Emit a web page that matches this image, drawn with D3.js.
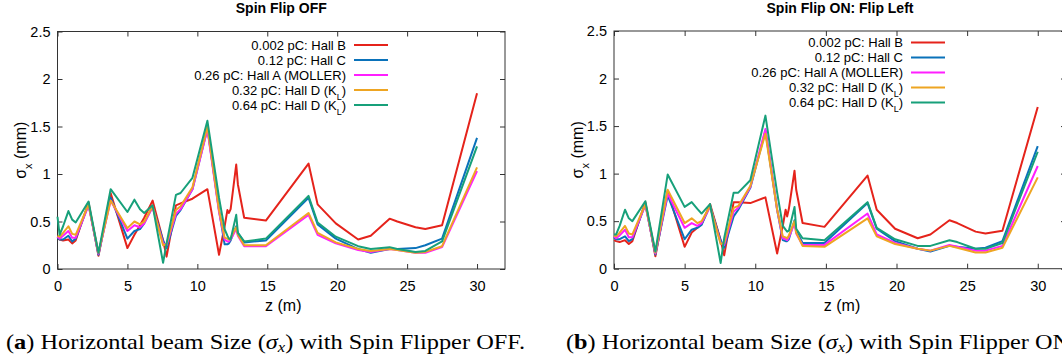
<!DOCTYPE html>
<html>
<head>
<meta charset="utf-8">
<script src="https://cdn.jsdelivr.net/npm/d3@7"></script>
<style>
  body { margin: 0; background: #fff; }
  svg { display: block; }
</style>
</head>
<body>
<svg id="chart" width="1062" height="360"></svg>
<script>
// positions along the beamline (m), shared by every series
const zPos = [0, 0.15, 0.4, 0.78, 1.05, 1.3, 2.22, 2.93, 3.8, 5.0, 5.5, 5.9, 6.2, 6.8, 7.55, 7.8,
  8.47, 8.8, 9.65, 10.72, 11.55, 11.95, 12.15, 12.26, 12.38, 12.78, 12.9, 13.35, 14.9,
  17.95, 18.6, 19.9, 21.5, 22.4, 23.75, 24.3, 25.6, 26.3, 27.5, 30];

const seriesLabels = ['0.002 pC: Hall B', '0.12 pC: Hall C', '0.26 pC: Hall A (MOLLER)', '0.32 pC: Hall D (K_L)', '0.64 pC: Hall D (K_L)'];
const seriesColors = ['#e5231b', '#0a72ba', '#ff1fff', '#eea522', '#17a07a'];

// Spin Flip OFF
const offHallB = [0.34, 0.31, 0.30, 0.31, 0.27, 0.30, 0.70, 0.14, 0.80, 0.22, 0.36, 0.46, 0.54, 0.72, 0.30, 0.13,
  0.67, 0.69, 0.74, 0.84, 0.15, 0.45, 0.62, 0.59, 0.63, 1.10, 0.89, 0.54, 0.51,
  1.11, 0.68, 0.48, 0.31, 0.35, 0.53, 0.50, 0.44, 0.42, 0.46, 1.85];
const offHallC = [0.33, 0.31, 0.31, 0.35, 0.29, 0.32, 0.68, 0.15, 0.75, 0.32, 0.40, 0.42, 0.48, 0.66, 0.30, 0.22,
  0.56, 0.62, 0.84, 1.48, 0.62, 0.26, 0.26, 0.27, 0.30, 0.45, 0.38, 0.28, 0.30,
  0.75, 0.47, 0.32, 0.21, 0.17, 0.21, 0.21, 0.22, 0.25, 0.32, 1.38];
const offHallA = [0.34, 0.32, 0.35, 0.40, 0.33, 0.33, 0.67, 0.16, 0.72, 0.40, 0.46, 0.44, 0.48, 0.65, 0.27, 0.25,
  0.58, 0.63, 0.84, 1.47, 0.60, 0.31, 0.29, 0.29, 0.31, 0.42, 0.35, 0.24, 0.24,
  0.57, 0.36, 0.27, 0.20, 0.18, 0.21, 0.20, 0.17, 0.17, 0.23, 1.03];
const offHallD32 = [0.35, 0.34, 0.38, 0.45, 0.37, 0.36, 0.68, 0.17, 0.72, 0.43, 0.50, 0.47, 0.50, 0.66, 0.25, 0.26,
  0.62, 0.66, 0.86, 1.50, 0.62, 0.33, 0.32, 0.31, 0.33, 0.44, 0.36, 0.25, 0.25,
  0.59, 0.38, 0.28, 0.21, 0.19, 0.21, 0.20, 0.17, 0.18, 0.24, 1.07];
const offHallD64 = [0.55, 0.36, 0.45, 0.61, 0.52, 0.49, 0.71, 0.17, 0.84, 0.60, 0.73, 0.63, 0.59, 0.67, 0.065, 0.27,
  0.78, 0.80, 0.96, 1.56, 0.75, 0.42, 0.35, 0.32, 0.31, 0.57, 0.38, 0.29, 0.32,
  0.77, 0.49, 0.34, 0.24, 0.21, 0.23, 0.21, 0.18, 0.19, 0.29, 1.29];

// Spin Flip ON: Flip Left
const onHallB = [0.30, 0.29, 0.28, 0.30, 0.26, 0.29, 0.70, 0.13, 0.82, 0.23, 0.38, 0.43, 0.47, 0.68, 0.30, 0.14,
  0.70, 0.70, 0.69, 0.75, 0.16, 0.45, 0.62, 0.55, 0.63, 1.03, 0.83, 0.48, 0.44,
  0.98, 0.62, 0.42, 0.32, 0.36, 0.51, 0.48, 0.39, 0.37, 0.40, 1.70];
const onHallC = [0.33, 0.31, 0.31, 0.34, 0.29, 0.31, 0.68, 0.15, 0.77, 0.31, 0.41, 0.43, 0.46, 0.66, 0.30, 0.22,
  0.55, 0.62, 0.85, 1.45, 0.62, 0.30, 0.29, 0.29, 0.31, 0.51, 0.40, 0.27, 0.27,
  0.69, 0.42, 0.29, 0.21, 0.18, 0.24, 0.23, 0.21, 0.22, 0.29, 1.29];
const onHallA = [0.34, 0.32, 0.35, 0.41, 0.33, 0.33, 0.67, 0.16, 0.79, 0.43, 0.48, 0.45, 0.48, 0.65, 0.27, 0.25,
  0.60, 0.64, 0.86, 1.47, 0.62, 0.32, 0.31, 0.30, 0.33, 0.48, 0.37, 0.25, 0.25,
  0.58, 0.36, 0.27, 0.21, 0.19, 0.25, 0.23, 0.19, 0.19, 0.24, 1.08];
const onHallD32 = [0.35, 0.34, 0.38, 0.45, 0.37, 0.36, 0.68, 0.17, 0.83, 0.48, 0.53, 0.48, 0.50, 0.66, 0.26, 0.27,
  0.64, 0.66, 0.87, 1.42, 0.62, 0.34, 0.33, 0.32, 0.35, 0.50, 0.38, 0.24, 0.23,
  0.53, 0.34, 0.26, 0.21, 0.19, 0.24, 0.22, 0.17, 0.17, 0.22, 0.96];
const onHallD64 = [0.36, 0.36, 0.45, 0.62, 0.53, 0.50, 0.71, 0.18, 0.99, 0.65, 0.70, 0.63, 0.58, 0.68, 0.06, 0.32,
  0.80, 0.80, 0.93, 1.61, 0.80, 0.45, 0.41, 0.39, 0.40, 0.65, 0.42, 0.32, 0.30,
  0.70, 0.43, 0.31, 0.24, 0.24, 0.30, 0.28, 0.21, 0.21, 0.27, 1.23];

const xTicks = [0, 5, 10, 15, 20, 25, 30];
const yTicks = [0, 0.5, 1, 1.5, 2, 2.5];

const svg = d3.select('#chart');
const plotFont = '"Liberation Sans", Arial, sans-serif';

function drawPanel(p) {
  const x = d3.scaleLinear().domain([0, 32]).range([p.left, p.right]);
  const y = d3.scaleLinear().domain([0, 2.5]).range([p.bottom, p.top]);
  const g = svg.append('g').attr('font-family', plotFont);

  // ticks point inward on all four sides, labels only bottom / left
  const bottom = g.append('g').attr('transform', `translate(0,${p.bottom})`)
    .call(d3.axisBottom(x).tickValues(xTicks).tickSize(-5).tickPadding(12).tickFormat(d3.format('d')));
  const left = g.append('g').attr('transform', `translate(${p.left},0)`)
    .call(d3.axisLeft(y).tickValues(yTicks).tickSize(-5).tickPadding(7).tickFormat(d3.format('~g')));
  const top = g.append('g').attr('transform', `translate(0,${p.top})`)
    .call(d3.axisTop(x).tickValues(xTicks).tickSize(-5).tickFormat(''));
  const right = g.append('g').attr('transform', `translate(${p.right},0)`)
    .call(d3.axisRight(y).tickValues(yTicks).tickSize(-5).tickFormat(''));

  [bottom, left, top, right].forEach(a => {
    a.select('.domain').remove();
    a.selectAll('line').attr('stroke', '#333');
    a.selectAll('text').attr('font-size', 14.5).attr('fill', '#000').attr('font-family', plotFont);
  });

  g.append('rect')
    .attr('x', p.left).attr('y', p.top)
    .attr('width', p.right - p.left).attr('height', p.bottom - p.top)
    .attr('fill', 'none').attr('stroke', '#333').attr('stroke-width', 1);

  const line = d3.line().x((d, i) => x(zPos[i])).y(d => y(d));

  p.series.forEach((vals, i) => {
    g.append('path')
      .datum(vals)
      .attr('d', line)
      .attr('fill', 'none')
      .attr('stroke', seriesColors[i])
      .attr('stroke-width', 2)
      .attr('stroke-linejoin', 'round');
  });

  // legend
  seriesLabels.forEach((lab, i) => {
    const ly = p.legendY + i * 15;
    const t = g.append('text')
      .attr('x', p.legendTextX).attr('y', ly).attr('dy', '0.35em')
      .attr('text-anchor', 'end').attr('font-size', 13);
    const parts = lab.split('_');
    t.append('tspan').text(parts[0]);
    if (parts.length > 1) {
      t.append('tspan').attr('baseline-shift', 'sub').attr('font-size', 9).text(parts[1].replace(')', ''));
      t.append('tspan').text(')');
    }
    g.append('line')
      .attr('x1', p.legendTextX + 8).attr('x2', p.legendTextX + 42)
      .attr('y1', ly).attr('y2', ly)
      .attr('stroke', seriesColors[i]).attr('stroke-width', 2);
  });

  // title
  g.append('text')
    .attr('x', (p.left + p.right) / 2).attr('y', 13)
    .attr('text-anchor', 'middle').attr('font-weight', 'bold').attr('font-size', 14)
    .text(p.title);

  // axis labels
  g.append('text')
    .attr('x', (p.left + p.right) / 2 + 2).attr('y', 311)
    .attr('text-anchor', 'middle').attr('font-size', 16)
    .text('z (m)');

  const yl = g.append('text')
    .attr('transform', `translate(${p.left - 37},${(p.top + p.bottom) / 2}) rotate(-90)`)
    .attr('text-anchor', 'middle').attr('dy', '0.35em').attr('font-size', 16);
  yl.append('tspan').text('σ');
  yl.append('tspan').attr('baseline-shift', 'sub').attr('font-size', 11).text('x');
  yl.append('tspan').text(' (mm)');

  // caption below the panel
  const cap = svg.append('text')
    .attr('x', p.capX).attr('y', 349)
    .attr('font-family', '"Liberation Serif", "Times New Roman", serif')
    .attr('font-size', 22)
    .attr('textLength', p.capLen).attr('lengthAdjust', 'spacingAndGlyphs');
  cap.append('tspan').text('(');
  cap.append('tspan').attr('font-weight', 'bold').text(p.capTag);
  cap.append('tspan').text(') Horizontal beam Size (');
  cap.append('tspan').attr('font-style', 'italic').text('σ');
  cap.append('tspan').attr('font-style', 'italic').attr('font-size', 15).attr('baseline-shift', '-3').text('x');
  cap.append('tspan').text(p.capTail);
}

drawPanel({
  left: 57.5, right: 505, top: 31.5, bottom: 269,
  title: 'Spin Flip OFF',
  legendTextX: 346, legendY: 45,
  series: [offHallB, offHallC, offHallA, offHallD32, offHallD64],
  capX: 6, capLen: 519, capTag: 'a', capTail: ') with Spin Flipper OFF.'
});

drawPanel({
  left: 614, right: 1066, top: 31, bottom: 268.7,
  title: 'Spin Flip ON: Flip Left',
  legendTextX: 903, legendY: 42.5,
  series: [onHallB, onHallC, onHallA, onHallD32, onHallD64],
  capX: 566, capLen: 510, capTag: 'b', capTail: ') with Spin Flipper ON.'
});
</script>
</body>
</html>
